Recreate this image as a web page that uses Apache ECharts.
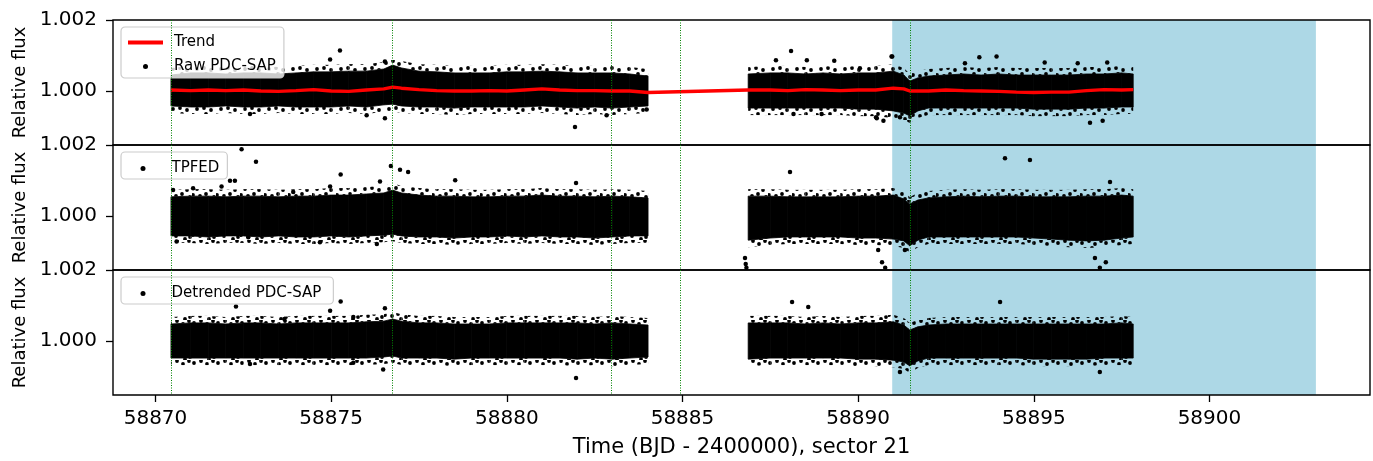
<!DOCTYPE html>
<html><head><meta charset="utf-8">
<script src="https://cdn.jsdelivr.net/npm/echarts@6/dist/echarts.min.js"></script>
<style>html,body{margin:0;padding:0;background:#fff}#c{width:1373px;height:461px}</style>
</head><body><div id="c"></div><script>
// ---------- data ----------
const xTicks = [58870, 58875, 58880, 58885, 58890, 58895, 58900];
const yTicks = [1.000, 1.002];
const vLines = [58870.44, 58876.73, 58882.97, 58884.94, 58891.47];
const shade = [58890.97, 58903.03];

// dense-band sample times (two orbits)
const tBand = [58870.44,58871.0,58871.5,58872.0,58872.5,58873.0,58873.5,58874.0,58874.5,58875.0,58875.5,58876.0,58876.5,58876.75,58877.0,58877.5,58878.0,58878.5,58879.0,58879.5,58880.0,58880.5,58881.0,58881.5,58882.0,58882.5,58883.0,58883.5,58884.02,
  58886.87,58887.5,58888.0,58888.5,58889.0,58889.5,58890.0,58890.5,58891.0,58891.3,58891.47,58891.7,58892.0,58892.5,58893.0,58893.5,58894.0,58894.5,58895.0,58895.5,58896.0,58896.5,58897.0,58897.5,58897.83];

// Raw PDC-SAP dense band
const rawHi = [1.00045,1.00051,1.00051,1.00048,1.00051,1.00051,1.00048,1.00051,1.00054,1.00054,1.00056,1.00056,1.00062,1.00073,1.00065,1.00056,1.00054,1.00051,1.00051,1.00051,1.00054,1.00054,1.00056,1.00054,1.00051,1.00051,1.00051,1.00048,1.00042,
  1.00048,1.00051,1.00051,1.00048,1.00051,1.00048,1.00051,1.00051,1.00056,1.00045,1.00028,1.00037,1.00042,1.00045,1.00048,1.00045,1.00048,1.00045,1.00045,1.00045,1.00045,1.00048,1.00048,1.00051,1.00048];
const rawLo = [0.99958,0.99955,0.99955,0.99958,0.99955,0.99955,0.99958,0.99955,0.99955,0.99955,0.99958,0.99955,0.99961,0.99963,0.99958,0.99955,0.99955,0.99952,0.99955,0.99955,0.99955,0.99955,0.99958,0.99955,0.99952,0.99955,0.99952,0.99955,0.99958,
  0.99952,0.99952,0.99952,0.99952,0.99952,0.99952,0.99949,0.99949,0.99944,0.99938,0.99930,0.99944,0.99952,0.99952,0.99952,0.99952,0.99952,0.99952,0.99949,0.99949,0.99949,0.99952,0.99952,0.99955,0.99955];

// TPFED dense band
const tpfHi = [1.00054,1.00056,1.00056,1.00054,1.00056,1.00056,1.00054,1.00056,1.00056,1.00059,1.00059,1.00062,1.00065,1.00073,1.00065,1.00059,1.00056,1.00056,1.00054,1.00054,1.00056,1.00056,1.00059,1.00056,1.00056,1.00054,1.00056,1.00054,1.00051,
  1.00056,1.00056,1.00054,1.00054,1.00054,1.00054,1.00056,1.00056,1.00059,1.00048,1.00034,1.00045,1.00051,1.00054,1.00056,1.00054,1.00056,1.00056,1.00054,1.00054,1.00054,1.00056,1.00056,1.00059,1.00056];
const tpfLo = [0.99944,0.99944,0.99941,0.99944,0.99944,0.99941,0.99944,0.99941,0.99941,0.99944,0.99941,0.99944,0.99946,0.99949,0.99944,0.99941,0.99941,0.99938,0.99941,0.99941,0.99944,0.99941,0.99944,0.99941,0.99941,0.99938,0.99941,0.99944,0.99944,
  0.99932,0.99938,0.99941,0.99941,0.99941,0.99941,0.99938,0.99938,0.99935,0.99930,0.99916,0.99932,0.99941,0.99941,0.99941,0.99941,0.99941,0.99941,0.99938,0.99935,0.99932,0.99930,0.99932,0.99938,0.99941];

// Detrended PDC-SAP dense band
const detHi = [1.00048,1.00051,1.00051,1.00048,1.00051,1.00051,1.00048,1.00051,1.00051,1.00051,1.00051,1.00054,1.00056,1.00062,1.00056,1.00051,1.00051,1.00048,1.00048,1.00048,1.00051,1.00051,1.00051,1.00051,1.00051,1.00048,1.00051,1.00048,1.00045,
  1.00051,1.00051,1.00051,1.00048,1.00051,1.00048,1.00051,1.00051,1.00054,1.00045,1.00031,1.00040,1.00045,1.00048,1.00048,1.00048,1.00048,1.00048,1.00048,1.00048,1.00048,1.00048,1.00048,1.00051,1.00048];
const detLo = [0.99952,0.99952,0.99952,0.99952,0.99952,0.99952,0.99952,0.99952,0.99952,0.99952,0.99952,0.99952,0.99955,0.99958,0.99952,0.99952,0.99952,0.99949,0.99952,0.99952,0.99952,0.99952,0.99952,0.99952,0.99949,0.99952,0.99949,0.99952,0.99955,
  0.99949,0.99952,0.99952,0.99952,0.99952,0.99952,0.99949,0.99949,0.99946,0.99941,0.99930,0.99944,0.99952,0.99952,0.99952,0.99952,0.99952,0.99952,0.99949,0.99949,0.99949,0.99949,0.99952,0.99952,0.99952];

// Trend (red line)
const trendT = [58870.44,58871.0,58871.5,58872.0,58872.5,58873.0,58873.5,58874.0,58874.5,58875.0,58875.5,58876.0,58876.5,58876.75,58877.0,58877.5,58878.0,58878.5,58879.0,58879.5,58880.0,58880.5,58881.0,58881.5,58882.0,58882.5,58883.0,58883.5,58884.02,
  58886.87,58887.5,58888.0,58888.5,58889.0,58889.5,58890.0,58890.5,58891.0,58891.3,58891.47,58892.0,58892.5,58893.0,58893.5,58894.0,58894.5,58895.0,58895.5,58896.0,58896.5,58897.0,58897.5,58897.83];
const trendV = [1.00003,1.00001,1.00003,1.00001,1.00003,1.00000,0.99999,1.00001,1.00004,1.00000,0.99999,1.00003,1.00006,1.00011,1.00008,1.00004,1.00001,1.00000,1.00000,1.00001,1.00000,1.00003,1.00006,1.00003,1.00001,1.00001,1.00000,1.00000,0.99996,
  1.00003,1.00003,1.00001,1.00004,1.00003,1.00001,1.00003,1.00003,1.00008,1.00006,1.00000,1.00000,1.00003,1.00001,1.00000,0.99999,0.99997,0.99996,0.99997,0.99997,1.00001,1.00004,1.00003,1.00004];

// scattered points outside the dense band [time, flux]
const rawPts = [[58875.25,1.00114],[58874.97,1.00089],[58876.53,1.00083],[58872.69,0.99935],[58876.53,0.99923],[58876.01,0.99932],
  [58888.09,1.00113],[58887.66,1.00087],[58888.54,1.00087],[58889.32,1.00085],[58890.97,1.00097],[58890.51,0.99926],[58890.72,0.99916],
  [58888.96,0.99935],[58888.16,0.99935],[58882.84,0.99932],[58883.98,0.99948],[58893.45,1.00095],[58893.94,1.00097],[58895.31,1.0008],
  [58896.25,1.00078],[58897.09,1.0008],[58896.6,0.99911],[58896.96,0.99916],[58891.19,0.99926],[58890.53,0.99923],[58890.95,1.00097],
  [58890.05,1.00064],[58893.04,1.00078],[58881.94,0.99899]];
const tpfPts = [[58872.45,1.00188],[58872.86,1.00153],[58875.27,1.00117],[58872.12,1.00099],[58872.26,1.00099],[58876.70,1.00141],
  [58876.96,1.0013],[58870.5,1.00073],[58871.07,1.00078],[58871.88,1.00083],[58873.92,1.00068],[58874.97,1.00083],[58876.39,1.00097],
  [58870.6,0.99928],[58872.64,0.9994],[58874.68,0.99926],[58876.3,0.99921],[58877.19,1.00124],[58878.53,1.00101],[58881.97,1.00093],
  [58886.78,0.99882],[58886.8,0.99865],[58886.82,0.99854],[58888.06,1.00124],[58890.57,0.99904],[58890.68,0.9987],[58890.77,0.99854],
  [58891.33,0.99904],[58894.18,1.00163],[58894.89,1.00158],[58897.17,1.00096],[58896.74,0.99882],[58896.88,0.99854],[58897.05,0.9987]];
const detPts = [[58875.27,1.00111],[58872.29,1.00097],[58874.97,1.00085],[58873.67,1.00062],[58876.53,1.00092],[58875.63,1.00068],
  [58872.69,0.99935],[58876.48,0.9992],[58875.63,0.99939],[58881.97,0.99896],[58888.12,1.0011],[58888.58,1.00096],[58891.19,0.99913],
  [58894.04,1.0011],[58896.88,0.99913]];

// ---------- chart ----------
const FONT = 'DejaVu Sans';
const X_MIN = 58868.79, X_MAX = 58904.57, Y_MIN = 0.99848, Y_MAX = 1.002;
const FR = 7; // px width of the thinning, dotted edge of each point cloud
const tops = [20, 145, 270];
const names = ['Raw PDC-SAP', 'TPFED', 'Detrended PDC-SAP'];
const bands = [[rawLo, rawHi], [tpfLo, tpfHi], [detLo, detHi]];
const pts = [rawPts, tpfPts, detPts];

// irregular dot texture used for the thinning edge of the point clouds
function dotPattern(dots) {
  const c = document.createElement('canvas'); c.width = 24; c.height = 20;
  const g = c.getContext('2d'); g.fillStyle = '#000';
  dots.forEach(p => { g.beginPath(); g.arc(p[0], p[1], 1.9, 0, Math.PI * 2); g.fill(); });
  return {image: c, repeat: 'repeat'};
}
const PAT = dotPattern([[2,3],[9,1],[15,4],[21,1],[5,9],[12,8],[19,10],[1,15],[8,16],[14,14],[22,17],[17,19]]);

const grid = tops.map(t => ({left: 113, width: 1257, top: t, height: 125, show: true, borderColor: '#000', borderWidth: 1.4, backgroundColor: 'transparent', z: 1}));

const xAxis = tops.map((t, i) => ({
  gridIndex: i, type: 'value', min: X_MIN, max: X_MAX,
  axisLine: {show: false}, splitLine: {show: false},
  axisTick: {show: i === 2, customValues: xTicks, length: 7, lineStyle: {color: '#000', width: 1.3}},
  axisLabel: {show: i === 2, customValues: xTicks, fontSize: 20, fontFamily: FONT, color: '#000', margin: 14, formatter: v => String(Math.round(v))},
  name: i === 2 ? 'Time (BJD - 2400000), sector 21' : '',
  nameLocation: 'middle', nameGap: 42,
  nameTextStyle: {fontSize: 21, fontFamily: FONT, color: '#000'}
}));

const yAxis = tops.map((t, i) => ({
  gridIndex: i, type: 'value', min: Y_MIN, max: Y_MAX,
  axisLine: {show: false}, splitLine: {show: false},
  axisTick: {customValues: yTicks, length: 7, lineStyle: {color: '#000', width: 1.3}},
  axisLabel: {customValues: yTicks, fontSize: 20, fontFamily: FONT, color: '#000', margin: 16, formatter: v => v.toFixed(3)},
  name: 'Relative flux', nameLocation: 'middle', nameGap: 84, nameRotate: 90,
  nameTextStyle: {fontSize: 18, fontFamily: FONT, color: '#000'}
}));

function edge(p0, p1, d) {
  return {type: 'polygon', shape: {points: [p0, p1, [p1[0], p1[1] + d], [p0[0], p0[1] + d]]}, style: {fill: PAT}};
}

const series = [];
tops.forEach((t, i) => {
  series.push({
    type: 'custom', name: 'shade' + i, xAxisIndex: i, yAxisIndex: i, z: 0, silent: true,
    data: [[shade[0], shade[1]]],
    renderItem: (params, api) => {
      const cs = params.coordSys;
      const a = api.coord([api.value(0), Y_MIN])[0];
      const b = api.coord([api.value(1), Y_MIN])[0];
      return {type: 'rect', shape: {x: a, y: cs.y, width: b - a, height: cs.height}, style: {fill: '#add8e6'}};
    }
  });
  const [lo, hi] = bands[i];
  series.push({
    type: 'custom', name: names[i] + ' band', xAxisIndex: i, yAxisIndex: i, z: 2, silent: true,
    data: tBand.map((tt, k) => [tt, lo[k], hi[k]]),
    renderItem: (params, api) => {
      const k = params.dataIndexInside;
      if (k >= params.dataInsideLength - 1) return null;
      const t0 = api.value(0, k), t1 = api.value(0, k + 1);
      if (t1 - t0 > 1.5) return null;
      const h0 = api.coord([t0, api.value(2, k)]), h1 = api.coord([t1, api.value(2, k + 1)]);
      const l0 = api.coord([t0, api.value(1, k)]), l1 = api.coord([t1, api.value(1, k + 1)]);
      return {type: 'group', children: [
        edge(h0, h1, -FR),
        edge(l0, l1, FR),
        {type: 'polygon', shape: {points: [h0, h1, l1, l0]}, style: {fill: '#000', stroke: '#000', lineWidth: 0.8}}
      ]};
    }
  });
  series.push({
    type: 'scatter', name: names[i], xAxisIndex: i, yAxisIndex: i, z: 3, silent: true,
    symbol: 'circle', symbolSize: 4.5, itemStyle: {color: '#000', opacity: 1},
    data: pts[i]
  });
  series.push({
    type: 'custom', name: 'vlines' + i, xAxisIndex: i, yAxisIndex: i, z: 5, silent: true,
    data: vLines.map(v => [v]),
    renderItem: (params, api) => {
      const cs = params.coordSys;
      const x = Math.round(api.coord([api.value(0), Y_MIN])[0]) + 0.5;
      return {type: 'line', shape: {x1: x, y1: cs.y, x2: x, y2: cs.y + cs.height}, style: {stroke: '#008000', lineWidth: 1, lineDash: [1, 1.5]}};
    }
  });
});
series.push({
  type: 'line', name: 'Trend', xAxisIndex: 0, yAxisIndex: 0, z: 4, silent: true,
  showSymbol: false, symbol: 'none', smooth: false,
  lineStyle: {color: '#ff0000', width: 3.4}, itemStyle: {color: '#ff0000'},
  data: trendT.map((tt, k) => [tt, trendV[k]])
});

const legendBase = {
  orient: 'vertical', itemWidth: 35, itemHeight: 5, itemGap: 9,
  backgroundColor: 'rgba(255,255,255,0.8)', borderColor: '#cccccc', borderWidth: 1.2, borderRadius: 4,
  selectedMode: false,
  textStyle: {fontSize: 15, fontFamily: FONT, color: '#000', padding: [0, 0, 0, 6]}
};
const legend = [
  Object.assign({}, legendBase, {left: 121, top: 27, padding: [8, 8, 4, 5],
    data: [{name: 'Trend', itemStyle: {opacity: 0}, lineStyle: {width: 4, color: '#ff0000'}}, {name: 'Raw PDC-SAP', icon: 'circle'}]}),
  Object.assign({}, legendBase, {left: 121, top: 152, padding: [9, 8, 3, 19.5], data: [{name: 'TPFED', icon: 'circle'}]}),
  Object.assign({}, legendBase, {left: 121, top: 277, padding: [9, 12, 3, 19.5], data: [{name: 'Detrended PDC-SAP', icon: 'circle'}]})
];

const chart = echarts.init(document.getElementById('c'), null, {renderer: 'canvas'});
chart.setOption({animation: false, backgroundColor: '#fff', grid, xAxis, yAxis, series, legend});
</script></body></html>
